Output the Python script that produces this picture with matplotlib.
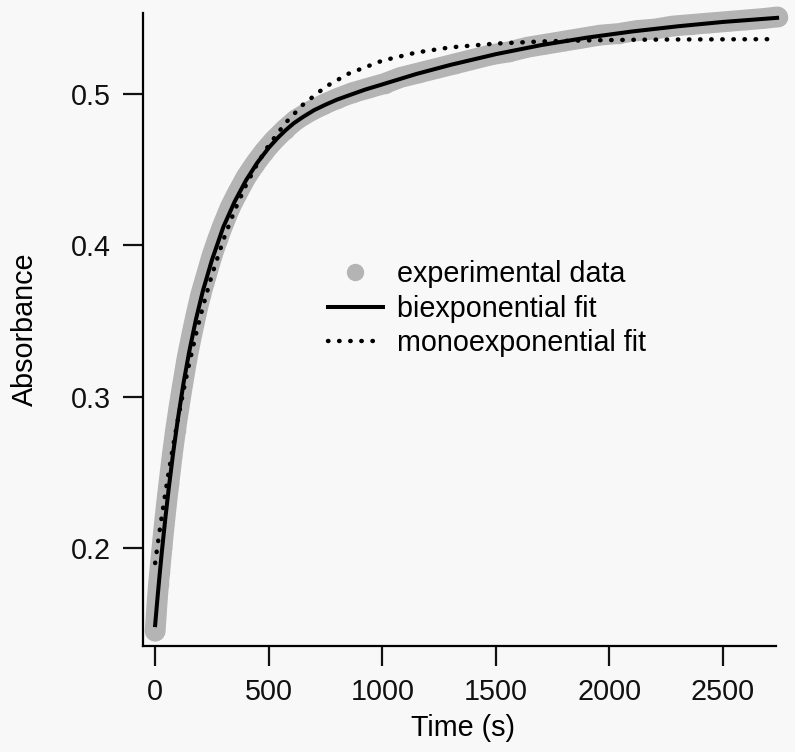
import matplotlib
matplotlib.use("Agg")
import matplotlib.pyplot as plt
from matplotlib.lines import Line2D

# ---- data ----
exp_time = [0, 5, 10, 15, 20, 30, 40, 50, 60, 75, 90, 105, 120, 140, 160, 180, 200,
            225, 250, 275, 300, 330, 360, 400, 440, 480, 520, 570, 620, 680, 740, 800,
            870, 940, 1010, 1080, 1160, 1240, 1320, 1400, 1480, 1560, 1640, 1720, 1800,
            1880, 1960, 2040, 2120, 2200, 2280, 2360, 2440, 2520, 2600, 2680, 2740]
exp_abs = [0.145, 0.156, 0.167, 0.176, 0.184, 0.200, 0.215, 0.229, 0.242, 0.261, 0.278,
           0.293, 0.307, 0.325, 0.340, 0.354, 0.367, 0.380, 0.393, 0.404, 0.414, 0.425,
           0.434, 0.445, 0.454, 0.462, 0.469, 0.4765, 0.483, 0.4885, 0.493, 0.497, 0.501,
           0.504, 0.507, 0.511, 0.514, 0.517, 0.520, 0.523, 0.526, 0.528, 0.531, 0.533,
           0.535, 0.537, 0.539, 0.540, 0.542, 0.543, 0.545, 0.546, 0.547, 0.548, 0.549,
           0.550, 0.551]

fit_time = [0, 10, 20, 30, 45, 60, 80, 100, 125, 150, 180, 210, 250, 300, 350, 400, 450,
            500, 540, 575, 610, 650, 700, 750, 800, 850, 925, 1000, 1150, 1300, 1500, 1700,
            1900, 2100, 2300, 2500, 2738]
bi_abs = [0.1490, 0.1663, 0.1827, 0.1982, 0.2197, 0.2396, 0.2636, 0.2851, 0.3090, 0.3297,
          0.3513, 0.3698, 0.3903, 0.4121, 0.4289, 0.4430, 0.4547, 0.4645, 0.4711, 0.4762,
          0.4807, 0.4848, 0.4894, 0.4930, 0.4963, 0.4990, 0.5030, 0.5064, 0.5133, 0.5193,
          0.5264, 0.5324, 0.5373, 0.5414, 0.5448, 0.5477, 0.5504]

mono_time = [0, 10, 20, 30, 45, 60, 80, 100, 125, 150, 180, 210, 250, 300, 350, 400, 450,
             500, 575, 650, 750, 850, 1000, 1150, 1300, 1500, 1700, 1900, 2100, 2300, 2500,
             2720]
mono_abs = [0.1900, 0.2009, 0.2114, 0.2216, 0.2364, 0.2504, 0.2681, 0.2847, 0.3040, 0.3218,
            0.3414, 0.3593, 0.3805, 0.4035, 0.4231, 0.4398, 0.4540, 0.4662, 0.4811, 0.4929,
            0.5048, 0.5134, 0.5221, 0.5275, 0.5309, 0.5334, 0.5348, 0.5355, 0.5359, 0.5361,
            0.5362, 0.5363]

x_ticks = [0, 500, 1000, 1500, 2000, 2500]
y_ticks = [0.2, 0.3, 0.4, 0.5]
legend_labels = ["experimental data", "biexponential fit", "monoexponential fit"]

# ---- figure ----
plt.rcParams['font.family'] = ['Liberation Sans', 'DejaVu Sans']
bg = '#f8f8f8'
gray = '#b4b4b4'
fs = 20.7
dotted = (0, (0.1, 2.4))
fig = plt.figure(figsize=(7.95, 7.52), dpi=100, facecolor=bg)
ax = fig.add_axes([0.180, 0.141, 0.796, 0.8415], facecolor=bg)

ax.plot(exp_time, exp_abs, color=gray, lw=15, solid_capstyle='round',
        solid_joinstyle='round', zorder=1, clip_on=False)
ax.plot(exp_time, exp_abs, 'o', color=gray, ms=14, mew=0, zorder=1, clip_on=False)
ax.plot(fit_time, bi_abs, color='black', lw=2.9, zorder=3, clip_on=False,
        solid_joinstyle='round')
ax.plot(mono_time, mono_abs, color='black', lw=3.2, linestyle=dotted,
        dash_capstyle='round', zorder=4, clip_on=False)

ax.set_xlim(-53, 2733)
ax.set_ylim(0.1352, 0.5535)
ax.set_xticks(x_ticks)
ax.set_xticklabels([str(v) for v in x_ticks])
ax.set_yticks(y_ticks)
ax.set_yticklabels([f"{v:.1f}" for v in y_ticks])

for s in ['top', 'right']:
    ax.spines[s].set_visible(False)
for s in ['left', 'bottom']:
    ax.spines[s].set_linewidth(1.6)
ax.tick_params(direction='out', length=14.5, width=1.6, labelsize=fs, pad=8.8,
               colors='#111111')
ax.set_xlabel("Time (s)", fontsize=fs)
ax.set_ylabel("Absorbance", fontsize=fs)
ax.xaxis.set_label_coords(0.505, -0.108)
ax.yaxis.set_label_coords(-0.164, 0.5)

handles = [
    Line2D([], [], marker='o', linestyle='none', color=gray, ms=12.5, mew=0),
    Line2D([], [], color='black', lw=2.9),
    Line2D([], [], color='black', lw=3.2, linestyle=dotted, dash_capstyle='round'),
]
ax.legend(handles, legend_labels, loc='upper left', bbox_to_anchor=(0.292, 0.610),
          frameon=False, fontsize=fs, handlelength=1.91, handletextpad=0.49,
          labelspacing=0.23, borderpad=0, borderaxespad=0)

fig.savefig("out.png", dpi=100, facecolor=bg)
